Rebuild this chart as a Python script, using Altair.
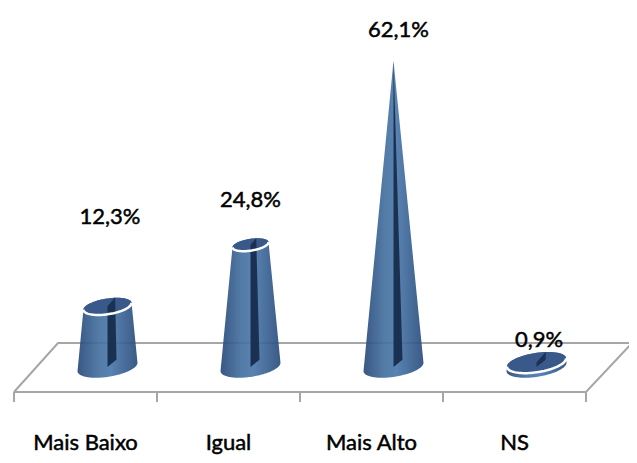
import math
import altair as alt
import pandas as pd

categories = ["Mais Baixo", "Igual", "Mais Alto", "NS"]
values = [12.3, 24.8, 62.1, 0.9]
value_labels = ["12,3%", "24,8%", "62,1%", "0,9%"]

# layout only: where each value label sits relative to its value
label_lift = [16.7, 7.65, 4.84, 3.16]
label_shift_px = [2.5, 0, 5, 2.5]

# scale layout
W, H = 621, 447
PX_CAT, PX_PCT = 143.0, 4.93
X_DOMAIN = [-6 / PX_CAT, (W - 6) / PX_CAT]
Y_DOMAIN = [-(455 - 367) / PX_PCT, (367 - 8) / PX_PCT]
xs = alt.Scale(domain=X_DOMAIN, range=[0, W], nice=False, zero=False)
ys = alt.Scale(domain=Y_DOMAIN, range=[H, 0], nice=False, zero=False)

DEPTH = 44 / PX_CAT
FRONT = -(392 - 367) / PX_PCT
BACK = (367 - 343) / PX_PCT
TICK = -(402 - 367) / PX_PCT
R0, SHEAR, SQUASH = 30.0, 0.14, 0.33
apex = max(values)


def ellipse(r, lift, t0=0, t1=360, n=72):
    pts = []
    for i in range(n + 1):
        t = math.radians(t0 + (t1 - t0) * i / n)
        pts.append((r * math.cos(t), lift + SHEAR * r * math.cos(t) + SQUASH * r * math.sin(t)))
    return pts


def hull(points):
    pts = sorted(set((round(a, 4), round(b, 4)) for a, b in points))
    def half(seq):
        out = []
        for p in seq:
            while len(out) > 1 and (out[-1][0] - out[-2][0]) * (p[1] - out[-2][1]) - (out[-1][1] - out[-2][1]) * (p[0] - out[-2][0]) <= 0:
                out.pop()
            out.append(p)
        return out[:-1]
    return half(pts) + half(pts[::-1])


def slices(poly):
    levels = sorted(set(p[0] for p in poly))
    rows = []
    for x in levels:
        found = []
        for (a, b), (c, d) in zip(poly, poly[1:] + poly[:1]):
            if min(a, c) <= x <= max(a, c):
                if a == c:
                    found += [b, d]
                else:
                    found.append(b + (d - b) * (x - a) / (c - a))
        rows.append((x, min(found), max(found)))
    return rows


body, cap, wedge, rim = [], [], [], []
for i, (cat, v) in enumerate(zip(categories, values)):
    cx = i + 0.5 + 22 / PX_CAT
    k = 1 - v / apex
    r = R0 * k
    h = v * PX_PCT

    def add(store, rows):
        for n, (x, a, b) in enumerate(rows):
            store.append(dict(cat=cat, n=n, x=cx + x / PX_CAT, lo=a / PX_PCT, hi=b / PX_PCT))

    add(body, slices(hull(ellipse(R0, 0) + ellipse(r, h))))
    if r > 0.5:
        add(cap, slices(hull(ellipse(r, h))))
    add(wedge, slices(hull([(0, 0), (9, 7.3), (9.5 * k, h + 11 * k), (0, h)])))
    if r > 0.5:
        for n, (a, b) in enumerate(ellipse(r, h, 180, 360, 48)):
            rim.append(dict(cat=cat, n=n, x=cx + a / PX_CAT, v=b / PX_PCT))

floor_path = [(0, FRONT), (4, FRONT), (4 + DEPTH + 2 / PX_CAT, BACK), (DEPTH, BACK), (0, FRONT)]
floor = [dict(part="floor", n=n, x=a, v=b) for n, (a, b) in enumerate(floor_path)]
for t in range(5):
    floor += [dict(part=f"t{t}", n=0, x=t, v=FRONT), dict(part=f"t{t}", n=1, x=t, v=TICK)]

cat_text = [dict(x=i + 0.5, v=-(450 - 367) / PX_PCT, t=c) for i, c in enumerate(categories)]
val_text = [
    dict(x=i + 0.5 + (22 + label_shift_px[i]) / PX_CAT, v=v + label_lift[i], t=s)
    for i, (v, s) in enumerate(zip(values, value_labels))
]

X = lambda: alt.X("x:Q", scale=xs, axis=None)
Y = lambda: alt.Y("v:Q", scale=ys, axis=None)


def solid(rows, **mark):
    return alt.Chart(pd.DataFrame(rows)).mark_area(**mark).encode(
        x=X(),
        y=alt.Y("lo:Q", scale=ys, axis=None, stack=None),
        y2="hi:Q",
        detail="cat:N",
    )


gradient = alt.Gradient(
    gradient="linear",
    x1=0, x2=1, y1=0, y2=0,
    stops=[
        alt.GradientStop(color="#29497a", offset=0),
        alt.GradientStop(color="#44709f", offset=0.35),
        alt.GradientStop(color="#4a78aa", offset=0.55),
        alt.GradientStop(color="#2a4c7c", offset=1),
    ],
)

floor_layer = alt.Chart(pd.DataFrame(floor)).mark_line(color="#a6a6a6", strokeWidth=2).encode(
    x=X(), y=Y(), detail="part:N", order="n:Q"
)
body_layer = solid(body, color=gradient, opacity=0.92)
cap_layer = solid(cap, color="#39598a")
wedge_layer = solid(wedge, color="#1a3152")
rim_layer = alt.Chart(pd.DataFrame(rim)).mark_line(color="white", strokeWidth=2.5).encode(
    x=X(), y=Y(), detail="cat:N", order="n:Q"
)


def text(rows):
    return alt.Chart(pd.DataFrame(rows)).mark_text(
        font="Lato", fontSize=22, color="black", baseline="alphabetic",
        align="center", stroke="black", strokeWidth=0.5,
    ).encode(x=X(), y=Y(), text="t:N")


chart = alt.layer(
    floor_layer, body_layer, cap_layer, wedge_layer, rim_layer, text(cat_text), text(val_text)
).properties(
    width=W, height=H, padding=0, autosize=alt.AutoSizeParams(type="none"), background="white"
).configure_view(stroke=None)

chart.save("out.html", embed_options={"renderer": "svg", "actions": False})
